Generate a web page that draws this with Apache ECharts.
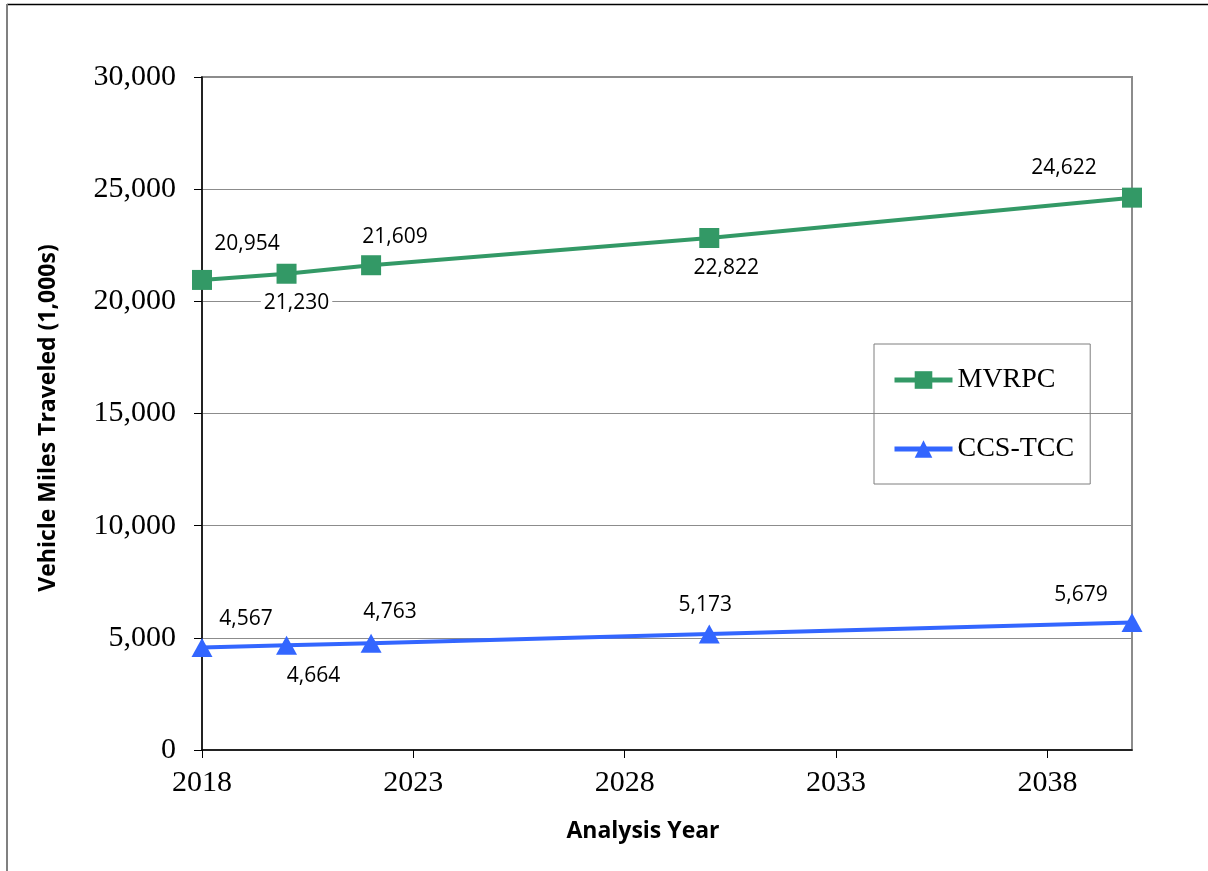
<!DOCTYPE html>
<html>
<head>
<meta charset="utf-8">
<script src="https://cdn.jsdelivr.net/npm/echarts@6/dist/echarts.min.js"></script>
<style>html,body{margin:0;padding:0;background:#fff}#c{width:1208px;height:871px}</style>
</head>
<body>
<div id="c"></div>
<script>
const years = [2018, 2020, 2022, 2030, 2040];
const mvrpc = [20954, 21230, 21609, 22822, 24622];
const ccsTcc = [4567, 4664, 4763, 5173, 5679];
const seriesNames = ['MVRPC', 'CCS-TCC'];
const xTitle = 'Analysis Year';
const yTitle = 'Vehicle Miles Traveled (1,000s)';

// label placement (style), offsets from marker centre
const mvrpcLabelOffsets = [[45, -36], [10, 29], [24, -28], [17, 30], [-68, -30]];
const ccsLabelOffsets = [[44, -29], [27, 31], [19, -31], [-4, -29], [-51, -28]];

const fmt = v => v.toLocaleString('en-US');
const sansFont = '"Open Sans", "Noto Sans", sans-serif';
const serifFont = '"Liberation Serif", "DejaVu Serif", serif';

function build(vals, offsets) {
  return vals.map((v, i) => ({
    value: [years[i], v],
    label: { offset: offsets[i] }
  }));
}

const chart = echarts.init(document.getElementById('c'), null, { renderer: 'canvas' });
const labelCommon = {
  show: true,
  position: 'inside',
  formatter: p => fmt(p.value[1]),
  fontFamily: sansFont,
  fontSize: 21,
  color: '#000',
  backgroundColor: '#fff',
  padding: [0, 3]
};
chart.setOption({
  animation: false,
  backgroundColor: '#fff',
  grid: { left: 202, right: 76, top: 77, bottom: 121, show: true, borderColor: '#8c8c8c', borderWidth: 2, backgroundColor: 'transparent' },
  xAxis: {
    type: 'value', min: 2018, max: 2040, interval: 5,
    axisLine: { show: true, onZero: false, lineStyle: { color: '#000', width: 1.5 } },
    axisTick: { show: true, length: 8, lineStyle: { color: '#000', width: 1 } },
    axisLabel: { showMaxLabel: false, margin: 18, fontFamily: serifFont, fontSize: 30, color: '#000', formatter: v => String(v) },
    splitLine: { show: false }
  },
  yAxis: {
    type: 'value', min: 0, max: 30000, interval: 5000,
    axisLine: { show: true, lineStyle: { color: '#000', width: 1.5 } },
    axisTick: { show: true, length: 8, lineStyle: { color: '#000', width: 1 } },
    axisLabel: { margin: 26, fontFamily: serifFont, fontSize: 30, color: '#000', formatter: v => fmt(v) },
    splitLine: { show: true, lineStyle: { color: '#8c8c8c', width: 1 } }
  },
  legend: {
    orient: 'vertical', left: 874, top: 344,
    borderColor: '#7f7f7f', borderWidth: 1,
    padding: [21, 16, 20, 18],
    itemWidth: 58, itemHeight: 22, itemGap: 39, itemTextGap: 3,
    lineStyle: { width: 5 },
    textStyle: { fontFamily: serifFont, fontSize: 28, color: '#000', lineHeight: 30 },
    data: seriesNames
  },
  series: [
    {
      name: seriesNames[0], type: 'line',
      data: build(mvrpc, mvrpcLabelOffsets),
      symbol: 'rect', symbolSize: 20,
      lineStyle: { color: '#339966', width: 4 },
      itemStyle: { color: '#339966' },
      label: labelCommon,
      z: 3
    },
    {
      name: seriesNames[1], type: 'line',
      data: build(ccsTcc, ccsLabelOffsets),
      symbol: 'triangle', symbolSize: [21, 19],
      lineStyle: { color: '#3366ff', width: 4 },
      itemStyle: { color: '#3366ff' },
      label: labelCommon,
      z: 3
    }
  ],
  graphic: [
    { type: 'line', shape: { x1: 7, y1: 4.5, x2: 1208, y2: 4.5 }, style: { stroke: '#000', lineWidth: 1.5 }, silent: true },
    { type: 'line', shape: { x1: 7, y1: 4, x2: 7, y2: 871 }, style: { stroke: '#808080', lineWidth: 2 }, silent: true },
    { type: 'text', x: 643, y: 831, style: { text: xTitle, fontFamily: sansFont, fontWeight: 'bold', fontSize: 23, fill: '#000', align: 'center', verticalAlign: 'middle' } },
    { type: 'text', x: 48, y: 418, rotation: Math.PI / 2, style: { text: yTitle, fontFamily: sansFont, fontWeight: 'bold', fontSize: 23, fill: '#000', align: 'center', verticalAlign: 'middle' } }
  ]
});
</script>
</body>
</html>
